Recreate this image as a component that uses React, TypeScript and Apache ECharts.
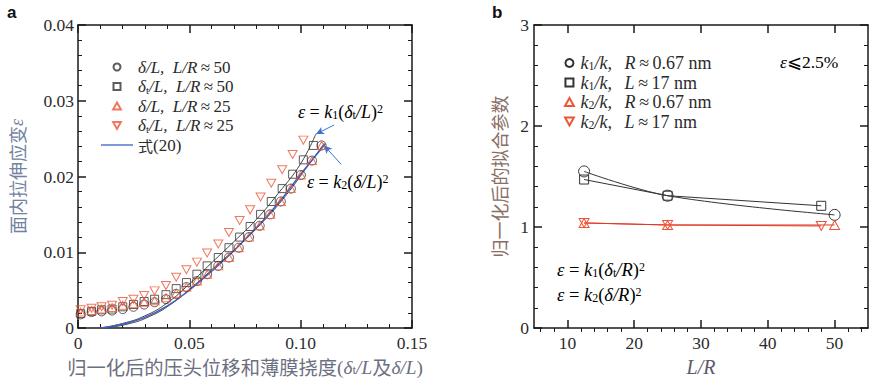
import React, { useEffect, useRef } from "react";
import * as echarts from "echarts";

// ---------- Panel a data ----------
const circX = [0.0012, 0.0061, 0.0106, 0.0153, 0.0201, 0.0249, 0.0297, 0.0344, 0.0395, 0.0441, 0.0487, 0.0534, 0.058, 0.063, 0.0678, 0.0722, 0.0768, 0.0816, 0.0863, 0.0911, 0.0956, 0.1001, 0.1051, 0.1094];
const circY = [0.0018, 0.0021, 0.0022, 0.0023, 0.0025, 0.0028, 0.0031, 0.0034, 0.0038, 0.0045, 0.0054, 0.0062, 0.0071, 0.0082, 0.0093, 0.0106, 0.012, 0.0135, 0.015, 0.0167, 0.0184, 0.0202, 0.0221, 0.0241];
const triUpY = [0.0021, 0.0023, 0.0025, 0.0027, 0.003, 0.0032, 0.0034, 0.0036, 0.004, 0.0046, 0.0054, 0.0062, 0.0071, 0.0082, 0.0093, 0.0106, 0.012, 0.0135, 0.015, 0.0167, 0.0184, 0.0202, 0.0221, 0.0241];
const sqX = [0.0012, 0.0061, 0.0106, 0.0153, 0.0201, 0.0249, 0.0297, 0.0344, 0.0395, 0.0441, 0.0487, 0.0534, 0.058, 0.063, 0.0678, 0.0726, 0.0773, 0.082, 0.0868, 0.0917, 0.0964, 0.1012, 0.1057];
const sqY = [0.0019, 0.0022, 0.0024, 0.0025, 0.0028, 0.0031, 0.0035, 0.0038, 0.0044, 0.0052, 0.006, 0.0071, 0.0082, 0.0093, 0.0106, 0.012, 0.0134, 0.015, 0.0167, 0.0184, 0.0203, 0.0222, 0.0241];
const triDnY = [0.0024, 0.0026, 0.0028, 0.003, 0.0035, 0.0038, 0.0043, 0.0049, 0.0056, 0.0067, 0.0077, 0.0087, 0.0099, 0.0111, 0.0126, 0.0142, 0.0156, 0.0173, 0.0191, 0.0209, 0.0229, 0.0248];

const fitK1X = [0.01, 0.02, 0.03, 0.04, 0.05, 0.06, 0.07, 0.08, 0.09, 0.1, 0.1068];
const fitK1Y = [0.0, 0.0006, 0.0016, 0.0033, 0.0058, 0.0086, 0.0114, 0.0143, 0.0178, 0.0217, 0.0256];
const fitK2X = [0.012, 0.022, 0.032, 0.042, 0.052, 0.062, 0.072, 0.082, 0.092, 0.102, 0.1106];
const fitK2Y = [0.0, 0.0005, 0.0015, 0.0032, 0.0056, 0.0082, 0.0108, 0.0137, 0.017, 0.0209, 0.0244];
const eq20X = [0.01, 0.02, 0.03, 0.04, 0.05, 0.06, 0.07, 0.08, 0.09, 0.1, 0.111];
const eq20Y = [0.0, 0.0005, 0.0014, 0.0029, 0.005, 0.0075, 0.0102, 0.0132, 0.0165, 0.0203, 0.0243];

const xTicksA = [0, 0.05, 0.1, 0.15];
const yTicksA = [0, 0.01, 0.02, 0.03, 0.04];

// ---------- Panel b data ----------
const lrR = [12.5, 25, 50];
const lrL = [12.5, 25, 48];
const k1R = [1.55, 1.31, 1.12];
const k1L = [1.47, 1.31, 1.21];
const k2R = [1.04, 1.02, 1.02];
const k2L = [1.04, 1.02, 1.01];
const xMajorB = [10, 20, 30, 40, 50];
const xMinorB = [6, 8, 12, 14, 16, 18, 22, 24, 26, 28, 32, 34, 36, 38, 42, 44, 46, 48, 52, 54];

const SERIF = "'Liberation Serif', 'Times New Roman', serif";
const CJK = "'Noto Sans CJK SC', 'Noto Sans CJK JP', sans-serif";
const TXT = "#2b2b2b";
const RED = "#ee5536";
const BLK = "#333333";
const BLUE = "#3d5fc4";
const AXC = "#1a1a1a";

const zip = (xs: number[], ys: number[]) => xs.map((x, i) => [x, ys[i]]);

const mkRich = (fs: number, color: string) => ({
  i: { fontFamily: SERIF, fontStyle: "italic", fontSize: fs, color, lineHeight: 18 },
  n: { fontFamily: SERIF, fontSize: fs, color, lineHeight: 18 },
  s: { fontFamily: SERIF, fontSize: Math.round(fs * 0.65), color, lineHeight: 10, verticalAlign: "bottom" },
  p: { fontFamily: SERIF, fontSize: Math.round(fs * 0.65), color, lineHeight: 12, verticalAlign: "top" },
  c: { fontFamily: CJK, fontSize: fs, color, lineHeight: 18 },
  cc: { fontFamily: CJK, fontSize: fs - 2, color, lineHeight: 18 },
});

const N1 = "δ/L, L/R≈50";
const N2 = "δt/L, L/R≈50";
const N3 = "δ/L, L/R≈25";
const N4 = "δt/L, L/R≈25";
const N5 = "式(20)";
const R1 = "k1/k, R≈0.67 nm";
const R2 = "k1/k, L≈17 nm";
const R3 = "k2/k, R≈0.67 nm";
const R4 = "k2/k, L≈17 nm";

const legendText: Record<string, string> = {
  [N1]: "{i|δ/L,\u2002L/R}{n|\u2009≈\u200950}",
  [N2]: "{i|δ}{s|t}{i|/L,\u2002L/R}{n|\u2009≈\u200950}",
  [N3]: "{i|δ/L,\u2002L/R}{n|\u2009≈\u200925}",
  [N4]: "{i|δ}{s|t}{i|/L,\u2002L/R}{n|\u2009≈\u200925}",
  [N5]: "{cc|式}{n|(20)}",
  [R1]: "{i|k}{s|1}{i|/k,\u2002\u2009R}{n|\u2009≈\u20090.67 nm}",
  [R2]: "{i|k}{s|1}{i|/k,\u2002\u2009L}{n|\u2009≈\u200917 nm}",
  [R3]: "{i|k}{s|2}{i|/k,\u2002\u2009R}{n|\u2009≈\u20090.67 nm}",
  [R4]: "{i|k}{s|2}{i|/k,\u2002\u2009L}{n|\u2009≈\u200917 nm}",
};

const DOWN_TRI = "path://M0,0L10,0L5,9Z";
const UP_TRI = "path://M5,0L10,9L0,9Z";
const SQUARE = "path://M0,0H10V10H0Z";
const LINE_ICON = "path://M0,0H32V1.3H0Z";

const hollow = (c: string) => ({ color: "rgba(0,0,0,0)", borderColor: c, borderWidth: 1 });

const tickStyle = { color: AXC, width: 1.5 };
const minorStyle = { color: AXC, width: 1 };
const axisLine = { show: true, onZero: false, lineStyle: { color: AXC, width: 1.5 } };
const fmtA = (v: number) => (v === 0 ? "0" : v.toFixed(2));

export default function App() {
  const ref = useRef<HTMLDivElement>(null);
  useEffect(() => {
    if (!ref.current) return;
    const chart = echarts.init(ref.current, undefined, { renderer: "svg" });
    const labelStyle = { fontFamily: SERIF, fontSize: 17.5, color: TXT };
    const EQ = "#3a3434";

    const option: any = {
      animation: false,
      backgroundColor: "#ffffff",
      grid: [
        { left: 78, right: 463, top: 25, bottom: 55 },
        { left: 534, right: 7, top: 25, bottom: 55 },
      ],
      xAxis: [
        {
          gridIndex: 0, type: "value", min: xTicksA[0], max: xTicksA[3], interval: 0.05,
          axisLine, axisTick: { inside: true, length: 8, lineStyle: tickStyle },
          minorTick: { show: true, splitNumber: 5, length: 4, lineStyle: minorStyle },
          splitLine: { show: false },
          axisLabel: { ...labelStyle, margin: 6, formatter: fmtA },
          name: "{c|归一化后的压头位移和薄膜挠度}{n|(}{i|δ}{s|t}{i|/L}{c|及}{i|δ/L}{n|)}",
          nameLocation: "middle", nameGap: 30,
          nameTextStyle: { rich: mkRich(19.3, "#6c6f80") },
        },
        {
          gridIndex: 0, type: "value", position: "top", min: 0, max: 0.15, interval: 0.05,
          axisLine, axisTick: { inside: true, length: 8, lineStyle: tickStyle },
          minorTick: { show: true, splitNumber: 5, length: 4, lineStyle: minorStyle },
          splitLine: { show: false }, axisLabel: { show: false },
        },
        {
          gridIndex: 1, type: "value", min: 5, max: 55,
          axisLine,
          axisTick: { inside: true, length: 8, lineStyle: tickStyle, customValues: xMajorB },
          splitLine: { show: false },
          axisLabel: { ...labelStyle, margin: 6, customValues: xMajorB },
          name: "{i|L/R}", nameLocation: "middle", nameGap: 28,
          nameTextStyle: { rich: mkRich(20, "#5c5a66") },
        },
        {
          gridIndex: 1, type: "value", position: "top", min: 5, max: 55,
          axisLine,
          axisTick: { inside: true, length: 8, lineStyle: tickStyle, customValues: xMajorB },
          splitLine: { show: false }, axisLabel: { show: false },
        },
        {
          gridIndex: 1, type: "value", min: 5, max: 55,
          axisLine: { show: false },
          axisTick: { inside: true, length: 4, lineStyle: minorStyle, customValues: xMinorB },
          splitLine: { show: false }, axisLabel: { show: false },
        },
        {
          gridIndex: 1, type: "value", position: "top", min: 5, max: 55,
          axisLine: { show: false },
          axisTick: { inside: true, length: 4, lineStyle: minorStyle, customValues: xMinorB },
          splitLine: { show: false }, axisLabel: { show: false },
        },
      ],
      yAxis: [
        {
          gridIndex: 0, type: "value", min: yTicksA[0], max: yTicksA[4], interval: 0.01,
          axisLine, axisTick: { inside: true, length: 8, lineStyle: tickStyle },
          minorTick: { show: true, splitNumber: 5, length: 4, lineStyle: minorStyle },
          splitLine: { show: false },
          axisLabel: { ...labelStyle, margin: 4, formatter: fmtA },
          name: "{c|面内拉伸应变}{i|ε}", nameLocation: "middle", nameRotate: 90, nameGap: 52,
          nameTextStyle: { rich: mkRich(18, "#7282a0") },
        },
        {
          gridIndex: 0, type: "value", position: "right", min: 0, max: 0.04, interval: 0.01,
          axisLine, axisTick: { inside: true, length: 8, lineStyle: tickStyle },
          minorTick: { show: true, splitNumber: 5, length: 4, lineStyle: minorStyle },
          splitLine: { show: false }, axisLabel: { show: false },
        },
        {
          gridIndex: 1, type: "value", min: 0, max: 3, interval: 1,
          axisLine, axisTick: { inside: true, length: 8, lineStyle: tickStyle },
          minorTick: { show: true, splitNumber: 5, length: 4, lineStyle: minorStyle },
          splitLine: { show: false },
          axisLabel: { ...labelStyle, margin: 5 },
          name: "{c|归一化后的拟合参数}", nameLocation: "middle", nameRotate: 90, nameGap: 26,
          nameTextStyle: { rich: mkRich(18, "#8a6e66") },
        },
        {
          gridIndex: 1, type: "value", position: "right", min: 0, max: 3, interval: 1,
          axisLine, axisTick: { inside: true, length: 8, lineStyle: tickStyle },
          minorTick: { show: true, splitNumber: 5, length: 4, lineStyle: minorStyle },
          splitLine: { show: false }, axisLabel: { show: false },
        },
      ],
      legend: [
        {
          data: [
            { name: N1, icon: "circle" },
            { name: N2, icon: SQUARE },
            { name: N3, icon: UP_TRI },
            { name: N4, icon: DOWN_TRI },
            { name: N5, icon: LINE_ICON },
          ],
          orient: "vertical", left: 101, top: 58, padding: 0,
          itemWidth: 32, itemHeight: 7, itemGap: 1.5, selectedMode: false,
          formatter: (n: string) => legendText[n],
          textStyle: { fontFamily: SERIF, fontSize: 17, color: TXT, lineHeight: 18, rich: mkRich(17, TXT) },
        },
        {
          data: [
            { name: R1, icon: "circle" },
            { name: R2, icon: SQUARE },
            { name: R3, icon: UP_TRI },
            { name: R4, icon: DOWN_TRI },
          ],
          orient: "vertical", left: 564, top: 54, padding: 0,
          itemWidth: 12, itemHeight: 8, itemGap: 1.5, selectedMode: false,
          formatter: (n: string) => legendText[n],
          textStyle: { fontFamily: SERIF, fontSize: 18, color: TXT, lineHeight: 18, rich: mkRich(18, TXT) },
        },
      ],
      series: [
        {
          name: "fitK1", type: "line", xAxisIndex: 0, yAxisIndex: 0, data: zip(fitK1X, fitK1Y),
          showSymbol: false, smooth: true, lineStyle: { color: "#444", width: 1 }, z: 2, silent: true,
        },
        {
          name: "fitK2", type: "line", xAxisIndex: 0, yAxisIndex: 0, data: zip(fitK2X, fitK2Y),
          showSymbol: false, smooth: true, lineStyle: { color: "#444", width: 1 }, z: 2, silent: true,
        },
        {
          name: N5, type: "line", xAxisIndex: 0, yAxisIndex: 0, data: zip(eq20X, eq20Y),
          symbol: "none", smooth: true, lineStyle: { color: BLUE, width: 1.5 }, itemStyle: { color: BLUE }, z: 3,
          markLine: {
            silent: true, symbol: ["none", "arrow"], symbolSize: [6, 8],
            label: { show: false },
            lineStyle: { color: "#3a72d4", width: 1, type: "solid" },
            data: [
              [{ coord: [0.115, 0.0268] }, { coord: [0.1069, 0.0256] }],
              [{ coord: [0.1182, 0.0216] }, { coord: [0.1105, 0.0241] }],
            ],
          },
        },
        {
          name: N1, type: "scatter", xAxisIndex: 0, yAxisIndex: 0, data: zip(circX, circY),
          symbol: "circle", symbolSize: 9, itemStyle: hollow(BLK), z: 4,
        },
        {
          name: N2, type: "scatter", xAxisIndex: 0, yAxisIndex: 0, data: zip(sqX, sqY),
          symbol: "rect", symbolSize: 8, itemStyle: hollow(BLK), z: 4,
        },
        {
          name: N3, type: "scatter", xAxisIndex: 0, yAxisIndex: 0, data: zip(circX, triUpY),
          symbol: UP_TRI, symbolSize: [9, 8], itemStyle: hollow(RED), z: 5,
        },
        {
          name: N4, type: "scatter", xAxisIndex: 0, yAxisIndex: 0, data: zip(sqX.slice(0, triDnY.length), triDnY),
          symbol: DOWN_TRI, symbolSize: [9, 8], itemStyle: hollow(RED), z: 5,
        },
        // panel b
        {
          name: R1, type: "line", xAxisIndex: 2, yAxisIndex: 2, data: zip(lrR, k1R), smooth: 0.35,
          symbol: "circle", symbolSize: 11, itemStyle: hollow(BLK), lineStyle: { color: BLK, width: 1 },
        },
        {
          name: R2, type: "line", xAxisIndex: 2, yAxisIndex: 2, data: zip(lrL, k1L),
          symbol: "rect", symbolSize: 9, itemStyle: hollow(BLK), lineStyle: { color: BLK, width: 1 },
        },
        {
          name: R3, type: "line", xAxisIndex: 2, yAxisIndex: 2, data: zip(lrR, k2R),
          symbol: UP_TRI, symbolSize: [10, 9], itemStyle: hollow(RED), lineStyle: { color: "#e03a24", width: 1 },
        },
        {
          name: R4, type: "line", xAxisIndex: 2, yAxisIndex: 2, data: zip(lrL, k2L),
          symbol: DOWN_TRI, symbolSize: [10, 9], itemStyle: hollow(RED), lineStyle: { color: "#e03a24", width: 1 },
        },
      ],
      graphic: [
        { type: "text", left: 7, top: 4, style: { text: "a", font: "bold 17px 'Liberation Sans', Arial, sans-serif", fill: "#111" } },
        { type: "text", left: 492, top: 4, style: { text: "b", font: "bold 17px 'Liberation Sans', Arial, sans-serif", fill: "#111" } },
        {
          type: "text", left: 298, top: 103,
          style: { text: "{i|ε}{n| = }{i|k}{s|1}{n|(}{i|δ}{s|t}{i|/L}{n|)}{p|2}", rich: mkRich(18, EQ) },
        },
        {
          type: "text", left: 307, top: 173,
          style: { text: "{i|ε}{n| = }{i|k}{s|2}{n|(}{i|δ/L}{n|)}{p|2}", rich: mkRich(18, EQ) },
        },
        {
          type: "text", left: 780, top: 53,
          style: { text: "{i|ε}{n|⩽2.5%}", rich: mkRich(17.5, EQ) },
        },
        {
          type: "text", left: 557, top: 260,
          style: { text: "{i|ε}{n| = }{i|k}{s|1}{n|(}{i|δ}{s|t}{i|/R}{n|)}{p|2}", rich: mkRich(18.5, EQ) },
        },
        {
          type: "text", left: 557, top: 285,
          style: { text: "{i|ε}{n| = }{i|k}{s|2}{n|(}{i|δ/R}{n|)}{p|2}", rich: mkRich(18.5, EQ) },
        },
      ],
    };
    chart.setOption(option);
    return () => chart.dispose();
  }, []);
  return <div ref={ref} style={{ width: 875, height: 383, position: "absolute", left: 0, top: 0 }} />;
}
